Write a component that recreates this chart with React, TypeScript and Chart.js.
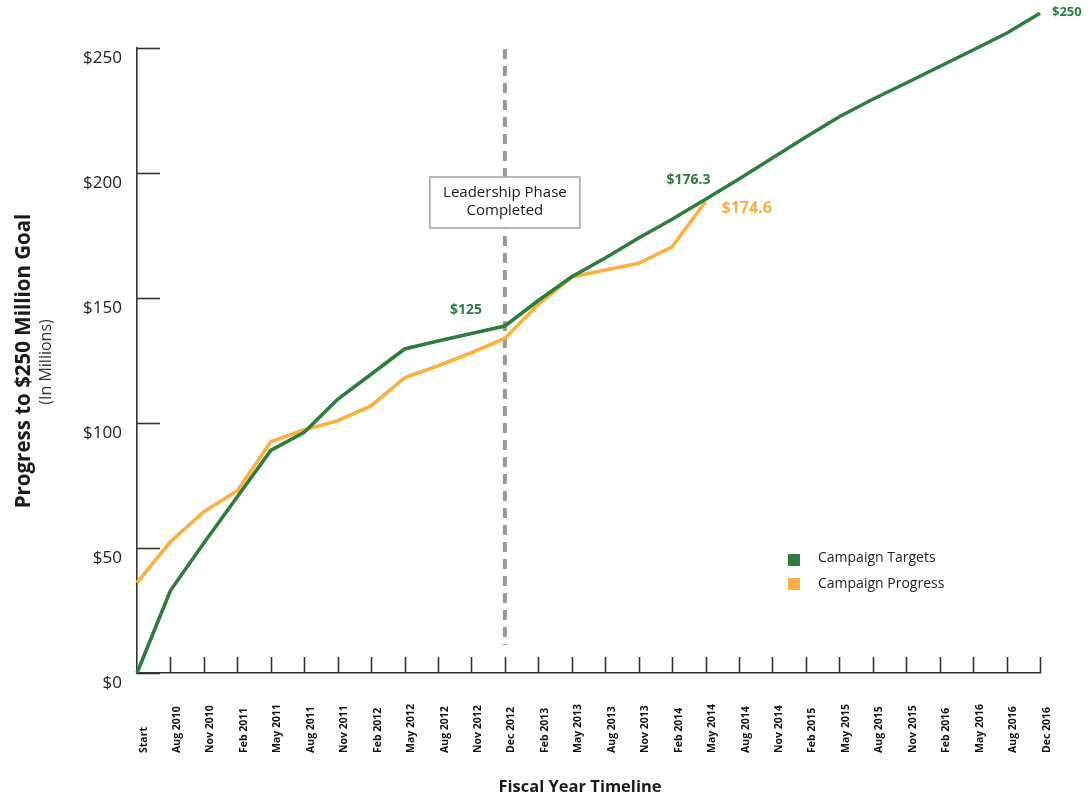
import React, { useEffect, useRef } from "react";
import { Chart, registerables } from "chart.js";
Chart.register(...registerables);

const categories = [
  "Start", "Aug 2010", "Nov 2010", "Feb 2011", "May 2011", "Aug 2011", "Nov 2011",
  "Feb 2012", "May 2012", "Aug 2012", "Nov 2012", "Dec 2012", "Feb 2013", "May 2013",
  "Aug 2013", "Nov 2013", "Feb 2014", "May 2014", "Aug 2014", "Nov 2014", "Feb 2015",
  "May 2015", "Aug 2015", "Nov 2015", "Feb 2016", "May 2016", "Aug 2016", "Dec 2016",
];

const campaignTargets = [
  0, 33, 52, 70.5, 89, 96.3, 109.5, 119.5, 129.6, 132.8, 135.8, 138.8, 149, 158.5,
  166, 174, 181.5, 189.5, 197.6, 206, 214.4, 222.5, 229.5, 236, 242.6, 249.2, 255.9, 263.9,
];

const campaignProgress: (number | null)[] = [
  36.1, 52.5, 64.5, 72.9, 92.5, 97.3, 100.9, 106.8, 118.1, 122.9, 128.1, 133.9, 147.5, 158.4,
  161.2, 163.9, 170.5, 188.5, null, null, null, null, null, null, null, null, null, null,
];

const seriesNames = ["Campaign Targets", "Campaign Progress"];
const yTickValues = [0, 50, 100, 150, 200, 250];
const yTitle = "Progress to $250 Million Goal";
const ySubtitle = "(In Millions)";
const xTitle = "Fiscal Year Timeline";
const phaseCategory = "Dec 2012";
const phaseText = ["Leadership Phase", "Completed"];
const targetCallouts = [
  { category: "Dec 2012", text: "$125" },
  { category: "May 2014", text: "$176.3" },
  { category: "Dec 2016", text: "$250" },
];
const progressCallouts = [{ category: "May 2014", text: "$174.6" }];

const FONT = "'Open Sans', 'Noto Sans', sans-serif";
const GREEN = "#2e7d3b";
const ORANGE = "#fbb040";
const AXIS = "#333333";

const calloutStyle: Record<string, { dx: number; dy: number; size: number; align: CanvasTextAlign }> = {
  "$125": { dx: -39, dy: -16, size: 14, align: "center" },
  "$176.3": { dx: -17, dy: -19, size: 14, align: "center" },
  "$250": { dx: 12, dy: -1, size: 13, align: "left" },
  "$174.6": { dx: 16, dy: 7, size: 16, align: "left" },
};

const decorPlugin = {
  id: "decor",
  beforeDatasetsDraw(chart: any) {
    const { ctx, chartArea, scales } = chart;
    const x = scales.x;
    const y = scales.y;
    const px = x.getPixelForValue(categories.indexOf(phaseCategory));
    ctx.save();
    ctx.strokeStyle = "#9a9a9a";
    ctx.lineWidth = 4;
    ctx.setLineDash([10, 7]);
    ctx.beginPath();
    ctx.moveTo(px, chartArea.top + 1);
    ctx.lineTo(px, chartArea.bottom - 28);
    ctx.stroke();
    ctx.restore();

    ctx.save();
    ctx.strokeStyle = AXIS;
    ctx.lineWidth = 1.6;
    yTickValues.forEach((v) => {
      const py = Math.round(y.getPixelForValue(v)) + 0.5;
      ctx.beginPath();
      ctx.moveTo(chartArea.left, py);
      ctx.lineTo(chartArea.left + 23, py);
      ctx.stroke();
    });
    categories.forEach((_c, i) => {
      if (i === 0) return;
      const p = Math.round(x.getPixelForValue(i)) + 0.5;
      ctx.beginPath();
      ctx.moveTo(p, chartArea.bottom);
      ctx.lineTo(p, chartArea.bottom - 16);
      ctx.stroke();
    });
    ctx.restore();
  },
  afterDraw(chart: any) {
    const { ctx, chartArea, scales } = chart;
    const x = scales.x;
    const y = scales.y;

    // x tick labels, rotated, aligned at their start
    ctx.save();
    ctx.fillStyle = "#111";
    ctx.font = `bold 10.5px ${FONT}`;
    ctx.textAlign = "left";
    ctx.textBaseline = "alphabetic";
    categories.forEach((c, i) => {
      const p = x.getPixelForValue(i);
      ctx.save();
      ctx.translate(p + 9.5, chartArea.bottom + 80);
      ctx.rotate(-Math.PI / 2);
      ctx.fillText(c, 0, 0);
      ctx.restore();
    });
    ctx.restore();

    // axis titles
    ctx.save();
    ctx.fillStyle = "#1a1a1a";
    ctx.textAlign = "center";
    ctx.textBaseline = "middle";
    ctx.save();
    ctx.translate(24, 361);
    ctx.rotate(-Math.PI / 2);
    ctx.font = `bold 20.5px ${FONT}`;
    ctx.fillText(yTitle, 0, 0);
    ctx.restore();
    ctx.save();
    ctx.translate(46, 362);
    ctx.rotate(-Math.PI / 2);
    ctx.font = `16px ${FONT}`;
    ctx.fillStyle = "#333";
    ctx.fillText(ySubtitle, 0, 0);
    ctx.restore();
    ctx.font = `bold 16.5px ${FONT}`;
    ctx.fillText(xTitle, 580, 787);
    ctx.restore();

    // callouts
    const drawCallout = (list: { category: string; text: string }[], data: (number | null)[], color: string) => {
      list.forEach((c) => {
        const i = categories.indexOf(c.category);
        const v = data[i] as number;
        const st = calloutStyle[c.text];
        const px = x.getPixelForValue(i);
        const py = y.getPixelForValue(v);
        ctx.save();
        ctx.fillStyle = color;
        ctx.font = `bold ${st.size}px ${FONT}`;
        ctx.textAlign = st.align;
        ctx.textBaseline = "middle";
        ctx.fillText(c.text, px + st.dx, py + st.dy);
        ctx.restore();
      });
    };
    drawCallout(targetCallouts, campaignTargets, GREEN);
    drawCallout(progressCallouts, campaignProgress, ORANGE);

    // phase box
    const bx = x.getPixelForValue(categories.indexOf(phaseCategory));
    ctx.save();
    ctx.fillStyle = "#fff";
    ctx.strokeStyle = "#a9a9a9";
    ctx.lineWidth = 1.6;
    ctx.fillRect(bx - 75, 177, 150, 51);
    ctx.strokeRect(bx - 75, 177, 150, 51);
    ctx.fillStyle = "#1a1a1a";
    ctx.font = `15px ${FONT}`;
    ctx.textAlign = "center";
    ctx.textBaseline = "middle";
    ctx.fillText(phaseText[0], bx, 193);
    ctx.fillText(phaseText[1], bx, 211);
    ctx.restore();

    // legend
    ctx.save();
    chart.data.datasets.forEach((ds: any, i: number) => {
      ctx.fillStyle = ds.borderColor;
      ctx.fillRect(788, 554 + i * 24, 12, 12);
      ctx.fillStyle = "#222";
      ctx.font = `14px ${FONT}`;
      ctx.textAlign = "left";
      ctx.textBaseline = "middle";
      ctx.fillText(ds.label, 818, 558 + i * 26);
    });
    ctx.restore();
  },
};

export default function App() {
  const ref = useRef<HTMLCanvasElement>(null);
  useEffect(() => {
    if (!ref.current) return;
    const chart = new Chart(ref.current, {
      type: "line",
      data: {
        labels: categories,
        datasets: [
          {
            label: seriesNames[0],
            data: campaignTargets,
            borderColor: GREEN,
            backgroundColor: GREEN,
            borderWidth: 3.6,
            pointRadius: 0,
            tension: 0,
            clip: false as any,
          },
          {
            label: seriesNames[1],
            data: campaignProgress,
            borderColor: ORANGE,
            backgroundColor: ORANGE,
            borderWidth: 3.6,
            pointRadius: 0,
            tension: 0,
            clip: false as any,
          },
        ],
      },
      options: {
        animation: false,
        responsive: true,
        maintainAspectRatio: false,
        layout: { padding: { top: 48, right: 52, left: 0, bottom: 0 } },
        plugins: { legend: { display: false }, tooltip: { enabled: false } },
        scales: {
          x: {
            type: "category",
            offset: false,
            grid: { display: false, drawTicks: false },
            border: { display: true, color: AXIS, width: 1.6 },
            ticks: { display: false },
            afterFit: (s: any) => { s.height = 125; },
          },
          y: {
            min: 0,
            max: 250,
            grid: { display: false, drawTicks: false },
            border: { display: true, color: AXIS, width: 1.6 },
            ticks: {
              stepSize: 50,
              padding: 15,
              labelOffset: 10,
              color: "#222",
              font: { family: FONT, size: 17 },
              callback: (v: any) => "$" + v,
            },
            afterFit: (s: any) => { s.width = 137; },
          },
        },
      },
      plugins: [decorPlugin],
    });
    return () => chart.destroy();
  }, []);
  return (
    <div style={{ position: "fixed", left: 0, top: 0, width: 1092, height: 798, background: "#fff" }}>
      <canvas ref={ref} />
    </div>
  );
}
